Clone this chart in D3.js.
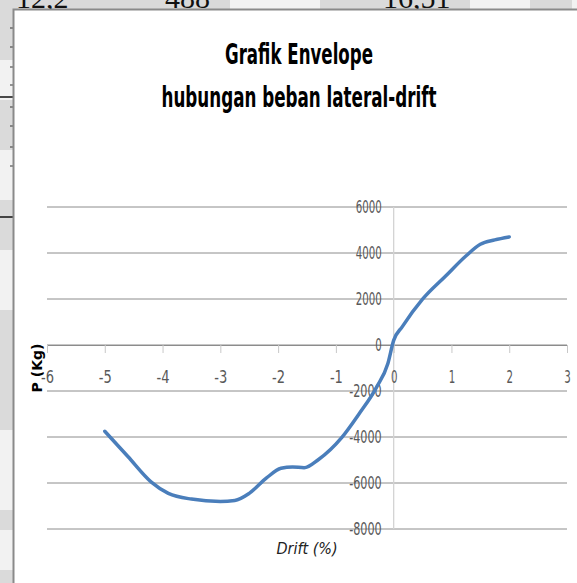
<!DOCTYPE html>
<html lang="en">
<head>
<meta charset="utf-8">
<title>Grafik Envelope</title>
<style>
    body { margin: 0; background: #fff; }
    svg { display: block; }
    .tick text { font: 17px "Liberation Sans Narrow", "DejaVu Sans Condensed", sans-serif; fill: #595959; }
    .title { font: bold 29px "Liberation Sans Narrow", "DejaVu Sans Condensed", sans-serif; fill: #000; }
    .scan { font: 30px "Liberation Serif", serif; fill: #111; }
</style>
<script src="https://cdn.jsdelivr.net/npm/d3@7"></script>
</head>
<body>
<svg width="577" height="583"></svg>
<script>
    // envelope points
    const drift = [-5, -4.6, -4.2, -3.9, -3.5, -3, -2.75, -2.5, -2.2, -1.95, -1.75, -1.55, -1.3, -0.9, -0.6, -0.3, -0.1, 0, 0.15, 0.5, 0.9, 1.25, 1.5, 1.75, 2];
    const load  = [-3750, -4850, -5950, -6450, -6700, -6800, -6760, -6450, -5780, -5360, -5300, -5340, -4980, -4030, -3000, -1850, -800, 200, 800, 1990, 3000, 3870, 4380, 4570, 4700];
    const xTicks = [-6, -5, -4, -3, -2, -1, 0, 1, 2, 3];
    const yTicks = [-8000, -6000, -4000, -2000, 0, 2000, 4000, 6000];
    const scanNumbers = ["12,2", "488", "16,51"];

    let svg = d3.select("svg");

    // bits of the scanned page around the chart
    svg.append("rect").attr("x", 0).attr("y", 0).attr("width", 577).attr("height", 583).attr("fill", "#dadada");
    [[0, 60, 13, 40], [0, 150, 13, 50], [0, 250, 13, 60], [0, 430, 13, 80], [0, 530, 13, 40], [230, 0, 90, 9], [470, 0, 60, 9], [572, 0, 5, 9]]
        .forEach(r => svg.append("rect").attr("x", r[0]).attr("y", r[1]).attr("width", r[2]).attr("height", r[3]).attr("fill", "#f2f2f2"));
    svg.selectAll(".scan").data(scanNumbers).enter().append("text")
        .attr("class", "scan")
        .attr("x", (d, i) => [16, 165, 383][i])
        .attr("y", 8)
        .text(d => d);
    [28, 47, 67, 85, 107, 126, 147, 166].forEach(y =>
        svg.append("line").attr("x1", 10).attr("x2", 13).attr("y1", y).attr("y2", y).attr("stroke", "#333"));
    [97, 217].forEach(y =>
        svg.append("line").attr("x1", 0).attr("x2", 13).attr("y1", y).attr("y2", y).attr("stroke", "#111").attr("stroke-width", 1.5));

    // chart frame
    svg.append("rect").attr("x", 13.5).attr("y", 9.5).attr("width", 600).attr("height", 600)
        .attr("fill", "#fff").attr("stroke", "#8a8a8a").attr("stroke-width", 2);

    let x = d3.scaleLinear().domain([-6, 3]).range([47, 567]),
        y = d3.scaleLinear().domain([-8000, 6000]).range([529, 207]);

    // horizontal gridlines
    svg.append("g").selectAll("line").data(yTicks).enter().append("line")
        .attr("x1", x(-6)).attr("x2", x(3))
        .attr("y1", d => y(d)).attr("y2", d => y(d))
        .attr("stroke", "#8c8c8c").attr("stroke-width", 1);

    // vertical axis line through zero
    svg.append("line")
        .attr("x1", x(0)).attr("x2", x(0)).attr("y1", y(6000)).attr("y2", y(-8000))
        .attr("stroke", "#d4d4d4").attr("stroke-width", 1.3);

    // narrow the tick labels a bit, the original font is condensed
    function squeeze(sel) {
        sel.attr("textLength", d => String(d).length * 6.5).attr("lengthAdjust", "spacingAndGlyphs");
    }

    // x axis
    let gx = svg.append("g")
        .attr("transform", "translate(0," + y(0) + ")")
        .call(d3.axisBottom(x).tickValues(xTicks).tickSize(8).tickSizeOuter(0).tickFormat(d => String(d)));
    gx.select(".domain").attr("stroke", "#8c8c8c");
    gx.selectAll(".tick line").attr("stroke", "#c8c8c8");
    gx.selectAll(".tick text").attr("y", 32).attr("dy", "0.35em").call(squeeze);

    // y axis labels sit left of the zero line
    let gy = svg.append("g")
        .attr("transform", "translate(" + x(0) + ",0)")
        .call(d3.axisLeft(y).tickValues(yTicks).tickSize(0).tickPadding(12).tickFormat(d => String(d)));
    gy.select(".domain").remove();
    gy.selectAll(".tick text").call(squeeze);

    // the envelope
    let line = d3.line()
        .x((d, i) => x(drift[i]))
        .y(d => y(d))
        .curve(d3.curveMonotoneX);
    svg.append("path")
        .datum(load)
        .attr("d", line)
        .attr("fill", "none")
        .attr("stroke", "#4a7ebb")
        .attr("stroke-width", 3.5)
        .attr("stroke-linecap", "round");

    // titles
    svg.append("text").attr("class", "title")
        .attr("x", 299).attr("y", 64).attr("text-anchor", "middle")
        .attr("textLength", 148).attr("lengthAdjust", "spacingAndGlyphs")
        .text("Grafik Envelope");
    svg.append("text").attr("class", "title")
        .attr("x", 299).attr("y", 107).attr("text-anchor", "middle")
        .attr("textLength", 275).attr("lengthAdjust", "spacingAndGlyphs")
        .text("hubungan beban lateral-drift");

    svg.append("text")
        .attr("transform", "translate(42,368) rotate(-90)")
        .attr("text-anchor", "middle")
        .style("font", "bold 14px 'DejaVu Sans', sans-serif")
        .text("P (Kg)");

    svg.append("text")
        .attr("x", 307).attr("y", 554).attr("text-anchor", "middle")
        .style("font", "italic 16px 'Liberation Sans Narrow', 'DejaVu Sans Condensed', sans-serif")
        .style("fill", "#222")
        .text("Drift (%)");
</script>
</body>
</html>
